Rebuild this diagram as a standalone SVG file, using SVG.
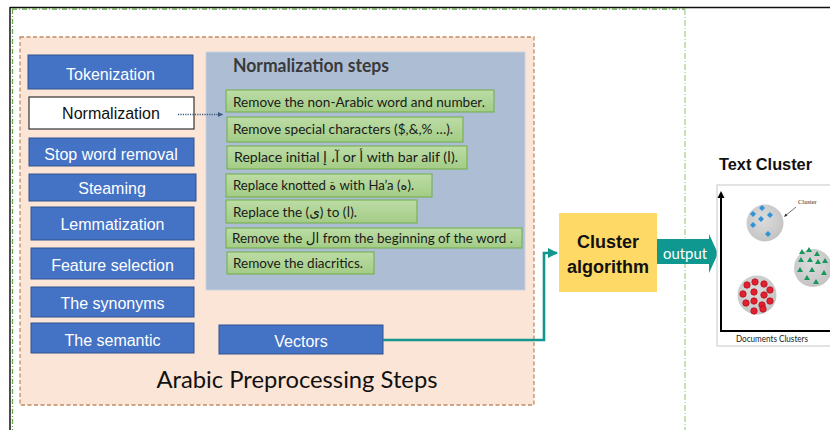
<svg xmlns="http://www.w3.org/2000/svg" width="830" height="430" viewBox="0 0 830 430">
  <style>
    .step { fill: #4472c4; stroke: #2f528f; stroke-width: 1; }
    .stepTxt { font-family: "Liberation Sans", Arial, sans-serif; font-size: 16px; fill: #ffffff; text-anchor: middle; }
    .norm { fill: url(#greenGrad); stroke: #70ad47; stroke-width: 1; }
    .normTxt { font-family: Lato, "DejaVu Sans", sans-serif; font-size: 14px; fill: #1a1a1a; }
    .diamond { fill: #2f93d8; }
    .tri { fill: #14985e; }
    .dot { fill: #e3202f; stroke: #b01020; stroke-width: 0.8; }
  </style>
  <defs>
    <linearGradient id="greenGrad" x1="0" y1="0" x2="0" y2="1">
      <stop offset="0" stop-color="#bcdca5"/>
      <stop offset="1" stop-color="#a3cc86"/>
    </linearGradient>
    <radialGradient id="blobGrad" cx="0.45" cy="0.4" r="0.6">
      <stop offset="0" stop-color="#dcdcdc"/>
      <stop offset="1" stop-color="#c4c4c4"/>
    </radialGradient>
    <marker id="dotArrow" markerWidth="6" markerHeight="6" refX="5" refY="3" orient="auto" markerUnits="userSpaceOnUse">
      <path d="M0,0.5 L5,3 L0,5.5 Z" fill="#3a5a80"/>
    </marker>
    <marker id="tealArrow" markerWidth="12" markerHeight="12" refX="9" refY="6" orient="auto" markerUnits="userSpaceOnUse">
      <path d="M0,1 L10,6 L0,11 Z" fill="#12968e"/>
    </marker>
    <marker id="axisArrow" markerWidth="8" markerHeight="8" refX="4" refY="4" orient="auto" markerUnits="userSpaceOnUse">
      <path d="M0,0.5 L7,4 L0,7.5 Z" fill="#000000"/>
    </marker>
  </defs>

  <rect x="0" y="0" width="830" height="430" fill="#ffffff"/>

  <!-- page frame -->
  <g id="frame">
    <line x1="10" y1="7.5" x2="830" y2="7.5" stroke="#111111" stroke-width="1.5"/>
    <line x1="10" y1="7" x2="10" y2="430" stroke="#111111" stroke-width="1.5"/>
    <line x1="12" y1="9" x2="685" y2="9" stroke="#6aa84f" stroke-width="1.3" stroke-dasharray="5,2,1,2"/>
    <line x1="12.5" y1="9" x2="12.5" y2="430" stroke="#6aa84f" stroke-width="1.3" stroke-dasharray="5,2,1,2"/>
    <line x1="685" y1="9" x2="685" y2="430" stroke="#a8d490" stroke-width="1.3" stroke-dasharray="6,2,1,2"/>
  </g>

  <!-- preprocessing container -->
  <g id="preprocessing">
    <rect x="20" y="37" width="514" height="368" fill="#fbe5d6" stroke="#c08a66" stroke-width="1.3" stroke-dasharray="4,2.5"/>
    <text x="297" y="388" font-family="Lato, 'Liberation Sans', sans-serif" font-size="24px" fill="#111111" text-anchor="middle" textLength="281" lengthAdjust="spacingAndGlyphs">Arabic Preprocessing Steps</text>
  </g>

  <!-- pipeline steps -->
  <g id="tokenization"><rect class="step" x="28" y="55" width="165" height="34"/><text class="stepTxt" x="110.5" y="80">Tokenization</text></g>
  <g id="normalization"><rect x="29" y="97" width="165" height="32" fill="#ffffff" stroke="#333333" stroke-width="1.2"/><text x="111" y="119" font-family="Liberation Sans, Arial, sans-serif" font-size="16px" fill="#111111" text-anchor="middle">Normalization</text></g>
  <g id="stopword"><rect class="step" x="29" y="138" width="165" height="28"/><text class="stepTxt" x="111" y="160">Stop word removal</text></g>
  <g id="steaming"><rect class="step" x="29" y="174" width="167" height="27"/><text class="stepTxt" x="112" y="194">Steaming</text></g>
  <g id="lemmatization"><rect class="step" x="31" y="207" width="163" height="33"/><text class="stepTxt" x="112.5" y="230">Lemmatization</text></g>
  <g id="feature"><rect class="step" x="31" y="248" width="163" height="31"/><text class="stepTxt" x="112.5" y="271">Feature selection</text></g>
  <g id="synonyms"><rect class="step" x="31" y="287" width="163" height="30"/><text class="stepTxt" x="112.5" y="309">The synonyms</text></g>
  <g id="semantic"><rect class="step" x="31" y="323" width="163" height="30"/><text class="stepTxt" x="112.5" y="346">The semantic</text></g>
  <g id="vectors"><rect class="step" x="219" y="325" width="164" height="29"/><text class="stepTxt" x="301" y="347">Vectors</text></g>

  <!-- normalization steps panel -->
  <g id="normSteps">
    <rect x="206" y="52" width="319" height="238" fill="#adbed4" stroke="#c8d3e0" stroke-width="0.8"/>
    <text x="233" y="72" font-family="Lato, 'Liberation Sans', sans-serif" font-size="18px" font-weight="bold" fill="#3a3a3a" textLength="156" lengthAdjust="spacingAndGlyphs">Normalization steps</text>
    <rect class="norm" x="226" y="90" width="268" height="22"/>
    <text class="normTxt" x="233" y="107" textLength="252" lengthAdjust="spacingAndGlyphs">Remove the non-Arabic word and number.</text>
    <rect class="norm" x="227" y="117" width="236" height="25"/>
    <text class="normTxt" x="233" y="134" textLength="220" lengthAdjust="spacingAndGlyphs">Remove special characters ($,&amp;,% …).</text>
    <rect class="norm" x="227" y="146" width="240" height="23"/>
    <text class="normTxt" x="234" y="162" textLength="224" lengthAdjust="spacingAndGlyphs">Replace initial  آ، إ or أ with bar alif (ا).</text>
    <rect class="norm" x="226" y="174" width="206" height="23"/>
    <text class="normTxt" x="233" y="190" textLength="181" lengthAdjust="spacingAndGlyphs">Replace knotted ة with Ha’a (ه).</text>
    <rect class="norm" x="226" y="200" width="191" height="23"/>
    <text class="normTxt" x="233" y="217" textLength="124" lengthAdjust="spacingAndGlyphs">Replace the (ى) to (ا).</text>
    <rect class="norm" x="226" y="228" width="296" height="20"/>
    <text class="normTxt" x="232" y="243" textLength="281" lengthAdjust="spacingAndGlyphs">Remove the ال from the beginning of the word .</text>
    <rect class="norm" x="227" y="252" width="147" height="22"/>
    <text class="normTxt" x="233" y="268" textLength="130" lengthAdjust="spacingAndGlyphs">Remove the diacritics.</text>
  </g>

  <!-- cluster algorithm -->
  <g id="clusterAlgorithm">
    <rect x="559" y="213" width="98" height="79" fill="#ffd966"/>
    <text x="608" y="248" font-family="Liberation Sans, Arial, sans-serif" font-size="18px" font-weight="bold" fill="#111111" text-anchor="middle">Cluster</text>
    <text x="608" y="273" font-family="Liberation Sans, Arial, sans-serif" font-size="18px" font-weight="bold" fill="#111111" text-anchor="middle">algorithm</text>
  </g>

  <!-- connectors -->
  <g id="connectors">
    <line x1="178" y1="114.5" x2="223" y2="114.5" stroke="#3a5a80" stroke-width="1.4" stroke-dasharray="1.2,1.2" marker-end="url(#dotArrow)"/>
    <polyline points="383,340 544,340 544,253 557,253" fill="none" stroke="#12968e" stroke-width="2.6" marker-end="url(#tealArrow)"/>
    <g id="outputArrow">
      <path d="M657,239 L709,239 L709,234 L718,253.5 L709,273 L709,264 L657,264 Z" fill="#0f9890"/>
      <text x="685" y="259" font-family="Lato, 'Liberation Sans', sans-serif" font-size="16px" fill="#ffffff" text-anchor="middle" textLength="44" lengthAdjust="spacingAndGlyphs">output</text>
    </g>
  </g>

  <!-- text cluster chart -->
  <g id="textCluster">
    <text x="719" y="170" font-family="Liberation Sans, Arial, sans-serif" font-size="16px" font-weight="bold" fill="#111111" textLength="93" lengthAdjust="spacingAndGlyphs">Text Cluster</text>
    <rect x="717" y="185" width="120" height="161" fill="#ffffff" stroke="#c8c8c8" stroke-width="1"/>
    <line x1="721" y1="331" x2="721" y2="194" stroke="#000000" stroke-width="2" marker-end="url(#axisArrow)"/>
    <line x1="720" y1="331" x2="832" y2="331" stroke="#000000" stroke-width="2"/>
    <text x="772" y="342" font-family="Lato, 'Liberation Sans', sans-serif" font-size="9px" fill="#222222" text-anchor="middle" textLength="72" lengthAdjust="spacingAndGlyphs">Documents Clusters</text>

    <circle cx="765" cy="223" r="18.5" fill="url(#blobGrad)"/>
    <circle cx="813" cy="268" r="19" fill="url(#blobGrad)"/>
    <circle cx="757" cy="295" r="19.5" fill="url(#blobGrad)"/>

    <text x="798" y="204" font-family="Liberation Serif, serif" font-size="6.5px" fill="#333333">Cluster</text>
    <line x1="796" y1="207" x2="785" y2="216" stroke="#333333" stroke-width="0.7"/>
    <path d="M784,217 L785.5,213.5 L787.5,215.5 Z" fill="#333333"/>

    <path class="diamond" d="M753,211 l3,3 l-3,3 l-3,-3 Z"/>
    <path class="diamond" d="M762,205 l3,3 l-3,3 l-3,-3 Z"/>
    <path class="diamond" d="M770,212 l3,3 l-3,3 l-3,-3 Z"/>
    <path class="diamond" d="M761,216 l3,3 l-3,3 l-3,-3 Z"/>
    <path class="diamond" d="M753,222 l3,3 l-3,3 l-3,-3 Z"/>
    <path class="diamond" d="M768,231 l3,3 l-3,3 l-3,-3 Z"/>

    <path class="tri" d="M802,249 l3,5 l-6,0 Z"/>
    <path class="tri" d="M809,247 l3,5 l-6,0 Z"/>
    <path class="tri" d="M817,251 l3,5 l-6,0 Z"/>
    <path class="tri" d="M825,258 l3,5 l-6,0 Z"/>
    <path class="tri" d="M801,257 l3,5 l-6,0 Z"/>
    <path class="tri" d="M810,257 l3,5 l-6,0 Z"/>
    <path class="tri" d="M818,259 l3,5 l-6,0 Z"/>
    <path class="tri" d="M800,267 l3,5 l-6,0 Z"/>
    <path class="tri" d="M812,267 l3,5 l-6,0 Z"/>
    <path class="tri" d="M824,270 l3,5 l-6,0 Z"/>
    <path class="tri" d="M807,275 l3,5 l-6,0 Z"/>
    <path class="tri" d="M816,279 l3,5 l-6,0 Z"/>

    <circle class="dot" cx="747" cy="285" r="3.2"/>
    <circle class="dot" cx="755" cy="282" r="3.2"/>
    <circle class="dot" cx="764" cy="284" r="3.2"/>
    <circle class="dot" cx="743" cy="294" r="3.2"/>
    <circle class="dot" cx="754" cy="292" r="3.2"/>
    <circle class="dot" cx="764" cy="295" r="3.2"/>
    <circle class="dot" cx="770" cy="290" r="3.2"/>
    <circle class="dot" cx="746" cy="303" r="3.2"/>
    <circle class="dot" cx="754" cy="301" r="3.2"/>
    <circle class="dot" cx="762" cy="305" r="3.2"/>
    <circle class="dot" cx="770" cy="301" r="3.2"/>
    <circle class="dot" cx="754" cy="311" r="3.2"/>
    <circle class="dot" cx="763" cy="309" r="3.2"/>
  </g>
</svg>
